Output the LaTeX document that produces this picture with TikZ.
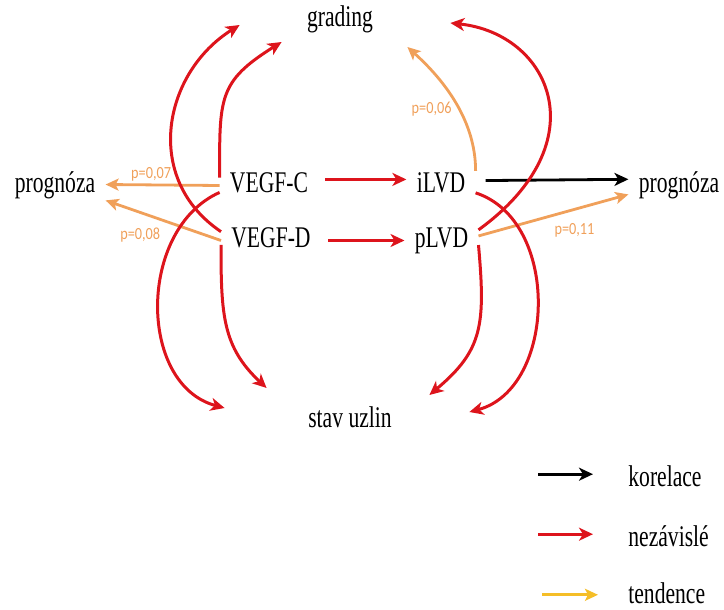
\documentclass[tikz,border=0pt]{standalone}
\usepackage{fontspec}
\setmainfont{Liberation Serif}[FakeStretch=0.72]
\newfontfamily\plabfont{Carlito}[FakeStretch=0.84]
\usetikzlibrary{arrows.meta}
\definecolor{vred}{RGB}{221,20,28}
\definecolor{vorange}{RGB}{240,160,90}
\definecolor{vyellow}{RGB}{245,190,40}

\begin{document}
\begin{tikzpicture}[x=0.5pt,y=0.5pt]
    \tikzset{%
      lbl/.style={font=\fontsize{15}{18}\selectfont, inner xsep=5pt,
        inner ysep=1pt, text height=10.5pt, text depth=3pt},
      plab/.style={font=\plabfont\fontsize{8.5}{10}\selectfont,
        text=vorange, inner sep=1pt},
      indep/.style={draw=vred, line width=1.5pt,
        -{Stealth[length=7pt,width=6.5pt,inset=2pt]}},
      tend/.style={draw=vorange, line width=1.4pt,
        -{Stealth[length=6.5pt,width=6pt,inset=1.5pt]}},
      corr/.style={draw=black, line width=1.4pt,
        -{Stealth[length=7pt,width=6.5pt,inset=2pt]}},
    }
    \useasboundingbox (0,0) rectangle (724,-610);

    % uzly
    \node[lbl] (grading) at (340,-19.5) {grading};
    \node[lbl] (progL) at (55,-184.5) {prognóza};
    \node[lbl] (vegfc) at (269,-185.5) {VEGF-C};
    \node[lbl] (vegfd) at (271,-240.5) {VEGF-D};
    \node[lbl] (ilvd) at (441,-185.5) {iLVD};
    \node[lbl] (plvd) at (441.5,-240.5) {pLVD};
    \node[lbl] (progR) at (679,-185.5) {prognóza};
    \node[lbl] (stav) at (350,-419.5) {stav uzlin};

    % tendence
    \draw[tend] (vegfc.west) -- (progL.east)
      node[plab, pos=0.6, above] {p=0,07};
    \draw[tend] (vegfd.west) -- (progL.south east)
      node[plab, pos=0.7, below=6pt] {p=0,08};
    \draw[tend] (ilvd.23) .. controls +(90:50) and +(-42:50) ..
      ([shift={(24,-27.5)}]grading.east)
      node[plab, pos=0.45, left=2pt] {p=0,06};
    \draw[tend] (plvd.7) -- (progR.190)
      node[plab, pos=0.64, below=5.5pt] {p=0,11};

    % korelace
    \draw[corr, shorten <=5pt] (ilvd.8) -- (progR.173);

    % nezavisle
    \draw[indep, shorten <=3.5pt] (vegfc.7) -- (vegfc.7 -| ilvd.west);
    \draw[indep, shorten <=3.5pt] (vegfd.east) -- (plvd.west);

    \draw[indep] (vegfd.170) .. controls +(146:95) and +(212:90) ..
      ([shift={(-57,-5.5)}]grading.west);
    \draw[indep] (vegfc.171) .. controls +(90:80) and +(212:75) ..
      ([shift={(-15,-22.5)}]grading.west);
    \draw[indep] (vegfc.188) .. controls +(204:90) and +(165:90) ..
      ([shift={(-73.3,11.5)}]stav.west);
    \draw[indep] (vegfd.185) .. controls +(270:70) and +(137:60) ..
      ([shift={(-31.3,31.5)}]stav.west);

    \draw[indep] (plvd.16) .. controls +(36:150) and +(-6:100) ..
      ([shift={(67,-3.5)}]grading.east);
    \draw[indep] (ilvd.-12) .. controls +(-18:90) and +(15:90) ..
      ([shift={(67.3,7.5)}]stav.east);
    \draw[indep] (plvd.-7) .. controls +(275:80) and +(40:70) ..
      ([shift={(27.3,24.5)}]stav.east);

    % legenda
    \node[lbl, anchor=west] (lkor) at (618,-479.2) {korelace};
    \node[lbl, anchor=west] (lnez) at (618,-539.2) {nezávislé};
    \node[lbl, anchor=west] (lten) at (618,-595.8) {tendence};

    \draw[corr] ([shift={(-80,5)}]lkor.west) -- ([shift={(-25,5)}]lkor.west);
    \draw[indep] ([shift={(-80,5)}]lnez.west) -- ([shift={(-25,5)}]lnez.west);
    \draw[tend, draw=vyellow] ([shift={(-76,1)}]lten.west)
      -- ([shift={(-20,1)}]lten.west);
  \end{tikzpicture}
\end{document}
